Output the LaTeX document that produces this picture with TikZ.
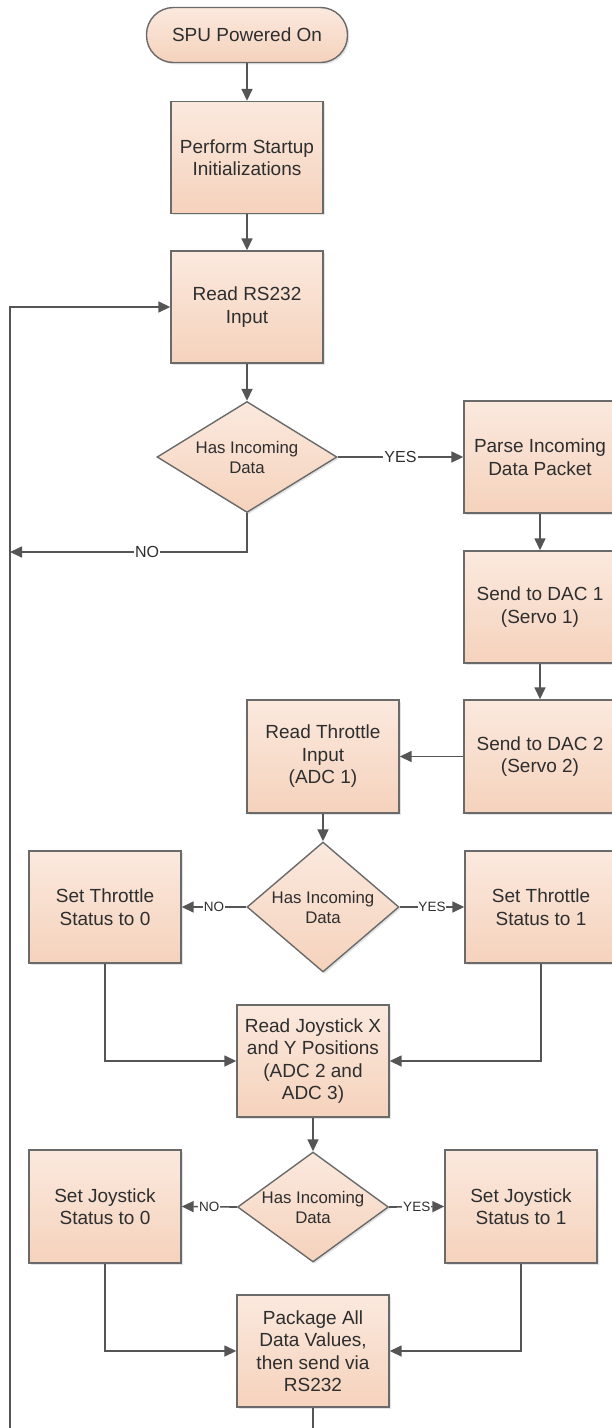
\documentclass[tikz,border=0pt]{standalone}
\usepackage{fontspec}
\setmainfont{Liberation Sans}
\usetikzlibrary{shapes.geometric,arrows.meta,shadows}

\definecolor{boxtop}{HTML}{FBE9DE}
\definecolor{boxbot}{HTML}{F5D2BC}
\definecolor{boxline}{HTML}{6A6A6A}
\definecolor{wire}{HTML}{555555}
\definecolor{ink}{HTML}{2E2E2E}

\tikzset{
  shape base/.style={draw=boxline, line width=1.4pt, top color=boxtop, bottom color=boxbot,
    text=ink, align=center, inner sep=0pt,
    drop shadow={opacity=0.22, shadow xshift=1.8pt, shadow yshift=-1.8pt}},
  procbox/.style={shape base, rectangle, minimum width=152pt, minimum height=112pt,
    font=\fontsize{19}{22.5}\selectfont},
  termbox/.style={shape base, rectangle, rounded corners=27pt, minimum width=201pt, minimum height=55pt,
    font=\fontsize{19}{22.5}\selectfont},
  decision/.style={shape base, diamond, font=\fontsize{16.8}{20}\selectfont},
  flow/.style={draw=wire, line width=1.6pt, -{Triangle[length=12pt,width=11pt]}},
  plain/.style={draw=wire, line width=1.6pt},
  biglbl/.style={fill=white, text=ink, inner sep=1pt, font=\fontsize{16}{16}\selectfont},
  smalllbl/.style={fill=white, text=ink, inner sep=0.8pt, font=\fontsize{13.5}{13.5}\selectfont},
}

\begin{document}
\begin{tikzpicture}[x=1pt, y=-1pt]
\useasboundingbox (0,0) rectangle (612,1428);
\clip (0,0) rectangle (612,1428);

% main column
\node[termbox] (on) at (247,35) {SPU Powered On};
\node[procbox] (init) at (247,157.5) {Perform Startup\\Initializations};
\node[procbox] (read) at (247,307) {Read RS232\\Input};
\node[decision, minimum width=180pt, minimum height=111pt, aspect=1.62] (d1) at (247,457) {Has Incoming\\Data};

% right column
\node[procbox] (parse) at (540,457) {Parse Incoming\\Data Packet};
\node[procbox] (dac1) at (540,607) {Send to DAC 1\\(Servo 1)};
\node[procbox, minimum height=113pt] (dac2) at (540,756.5) {Send to DAC 2\\(Servo 2)};

% throttle
\node[procbox, minimum height=113pt] (thr) at (323,756.5) {Read Throttle\\Input\\(ADC 1)};
\node[decision, minimum width=152pt, minimum height=130pt, aspect=1.17] (d2) at (323,907) {Has Incoming\\Data};
\node[procbox] (st0) at (105,907) {Set Throttle\\Status to 0};
\node[procbox] (st1) at (541,907) {Set Throttle\\Status to 1};

% joystick
\node[procbox] (joy) at (313,1061) {Read Joystick X\\and Y Positions\\(ADC 2 and\\ADC 3)};
\node[decision, minimum width=151pt, minimum height=110pt, aspect=1.37] (d3) at (313,1207) {Has Incoming\\Data};
\node[procbox, minimum height=113pt] (sj0) at (105,1206.5) {Set Joystick\\Status to 0};
\node[procbox, minimum height=113pt] (sj1) at (521,1206.5) {Set Joystick\\Status to 1};
\node[procbox] (pkg) at (313,1351) {Package All\\Data Values,\\then send via\\RS232};

% loop-back points
\coordinate (noend) at (10,552);
\coordinate (loopbot) at (10,1440);
\coordinate (pkgout) at (313,1440);

% straight connectors
\draw[flow] (on) -- (init);
\draw[flow] (init) -- (read);
\draw[flow] (read) -- (d1);
\draw[flow] (parse) -- (dac1);
\draw[flow] (dac1) -- (dac2);
\draw[flow] (dac2) -- (thr);
\draw[flow] (thr) -- (d2);
\draw[flow] (joy) -- (d3);

% branches
\draw[flow] (d1.east) -- node[biglbl] {YES} (parse.west);
\draw[flow] (d1.south) |- (noend);
\node[biglbl] (nolbl) at (147,552) {NO};
\draw[flow] (d2.west) -- node[smalllbl] {NO} (st0.east);
\draw[flow] (d2.east) -- node[smalllbl] {YES} (st1.west);
\draw[flow] (d3.west) -- node[smalllbl] {NO} (sj0.east);
\draw[flow] (d3.east) -- node[smalllbl] {YES} (sj1.west);

% merges
\draw[flow] (st0.south) |- (joy.west);
\draw[flow] (st1.south) |- (joy.east);
\draw[flow] (sj0.south) |- (pkg.west);
\draw[flow] (sj1.south) |- (pkg.east);

% return path to the input stage
\draw[plain] (pkg.south) -- (pkgout);
\draw[flow] (loopbot) |- (read.west);
\end{tikzpicture}
\end{document}
